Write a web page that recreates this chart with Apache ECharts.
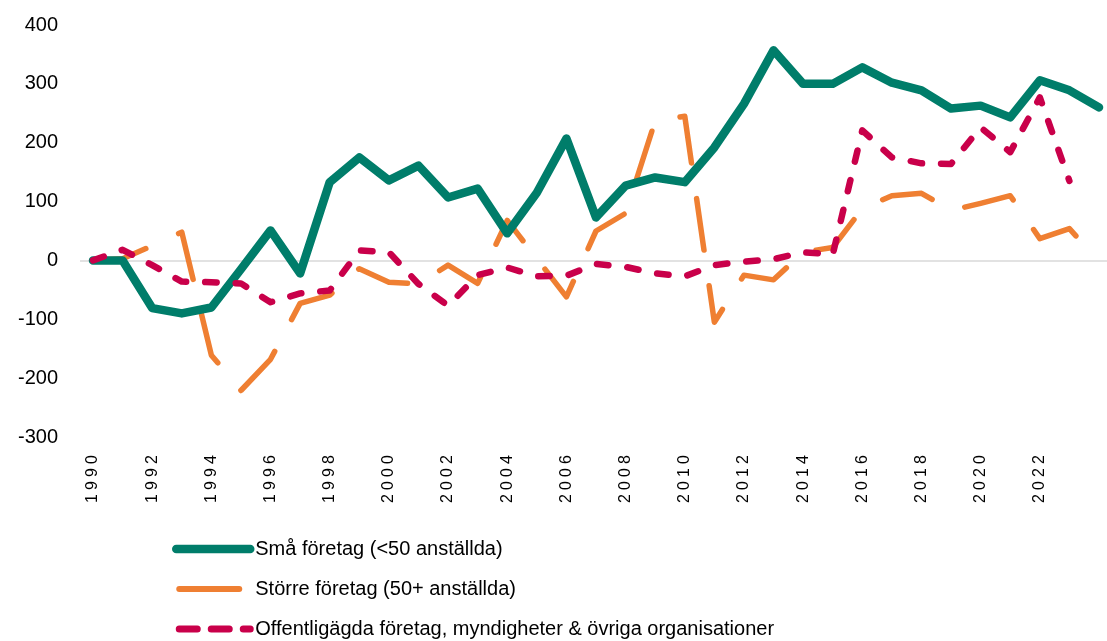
<!DOCTYPE html>
<html>
<head>
<meta charset="utf-8">
<script src="https://cdn.jsdelivr.net/npm/echarts@6/dist/echarts.min.js"></script>
<style>
html,body{margin:0;padding:0;background:#fff;}
#chart{width:1107px;height:641px;}
</style>
</head>
<body>
<div id="chart"></div>
<script>
var years = ['1990','1991','1992','1993','1994','1995','1996','1997','1998','1999','2000','2001','2002','2003','2004','2005','2006','2007','2008','2009','2010','2011','2012','2013','2014','2015','2016','2017','2018','2019','2020','2021','2022','2023','2024'];
var smaForetag = [0, 0, -81, -90, -80, -15, 51, -22, 133, 175, 136, 161, 107, 122, 46, 115, 207, 73, 127, 141, 133, 192, 266, 357, 300, 300, 328, 302, 289, 258, 263, 243, 306, 289, 260];
var storreForetag = [0, 3, 25, 48, -161, -221, -168, -73, -59, -14, -37, -40, -8, -39, 68, 3, -62, 50, 80, 237, 245, -105, -25, -33, 14, 22, 88, 110, 114, 85, 97, 110, 37, 54, -2];
var offentliga = [0, 18, -8, -36, -37, -39, -71, -56, -51, 17, 14, -40, -77, -25, -12, -27, -26, -6, -11, -22, -27, -8, -2, 2, 14, 10, 221, 175, 165, 164, 226, 184, 277, 135, null];
var seriesNames = ['Små företag (<50 anställda)', 'Större företag (50+ anställda)', 'Offentligägda företag, myndigheter & övriga organisationer'];
var yTicks = [-300, -200, -100, 0, 100, 200, 300, 400];

var chart = echarts.init(document.getElementById('chart'), null, {renderer: 'canvas'});
var font = 'Liberation Sans, Arial, sans-serif';
var splitColors = yTicks.map(function (v) { return v === 0 ? '#d9d9d9' : 'rgba(0,0,0,0)'; });

chart.setOption({
  animation: false,
  backgroundColor: '#ffffff',
  textStyle: {fontFamily: font},
  grid: [
    {left: 93, right: 8, top: 25, bottom: 204, containLabel: false},
    {left: 80, right: 0, top: 25, bottom: 204, containLabel: false}
  ],
  legend: {
    orient: 'vertical',
    left: 172,
    top: 539,
    padding: 0,
    itemWidth: 74,
    itemHeight: 10,
    itemGap: 20,
    itemStyle: {opacity: 0},
    lineStyle: {width: 'inherit'},
    data: [
      {name: seriesNames[0]},
      {name: seriesNames[1], lineStyle: {type: [60, 30], width: 6}},
      {name: seriesNames[2], lineStyle: {type: [18, 14], width: 7}}
    ],
    textStyle: {fontSize: 20, color: '#000', fontFamily: font}
  },
  xAxis: [
    {
      type: 'category',
      gridIndex: 0,
      data: years,
      boundaryGap: false,
      axisLine: {show: false},
      axisTick: {show: false},
      splitLine: {show: false},
      axisLabel: {
        rotate: 90,
        margin: 16,
        fontSize: 16,
        color: '#000',
        fontFamily: font,
        interval: function (i) { return i % 2 === 0 && i < years.length - 1; },
        formatter: function (v) {
          return String(v).split('').map(function (c) { return '{d|' + c + '}'; }).join('');
        },
        rich: {d: {width: 13, align: 'center', fontSize: 16, color: '#000', fontFamily: font}}
      }
    },
    {
      type: 'value',
      gridIndex: 1,
      min: 0,
      max: 1,
      show: false
    }
  ],
  yAxis: [
    {
      type: 'value',
      gridIndex: 0,
      min: -300,
      max: 400,
      interval: 100,
      axisLine: {show: false},
      axisTick: {show: false},
      splitLine: {show: false},
      axisLabel: {fontSize: 20, color: '#000', margin: 35, fontFamily: font}
    },
    {
      type: 'value',
      gridIndex: 1,
      min: -300,
      max: 400,
      interval: 100,
      z: 0,
      axisLine: {show: false},
      axisTick: {show: false},
      axisLabel: {show: false},
      splitLine: {show: true, lineStyle: {color: splitColors, width: 1.5}}
    }
  ],
  series: [
    {
      name: seriesNames[0],
      type: 'line',
      data: smaForetag,
      symbol: 'none',
      showSymbol: false,
      z: 3,
      lineStyle: {color: '#007d6a', width: 8.5, cap: 'round', join: 'round'},
      itemStyle: {color: '#007d6a'}
    },
    {
      name: seriesNames[1],
      type: 'line',
      data: storreForetag,
      symbol: 'none',
      showSymbol: false,
      z: 2,
      lineStyle: {color: '#ef7f32', width: 5.5, type: [52, 36], dashOffset: -3, cap: 'round', join: 'round'},
      itemStyle: {color: '#ef7f32'}
    },
    {
      name: seriesNames[2],
      type: 'line',
      data: offentliga,
      symbol: 'none',
      showSymbol: false,
      z: 4,
      lineStyle: {color: '#c9004a', width: 6.5, type: [11.5, 19], cap: 'round', join: 'round'},
      itemStyle: {color: '#c9004a'}
    }
  ]
});
</script>
</body>
</html>
